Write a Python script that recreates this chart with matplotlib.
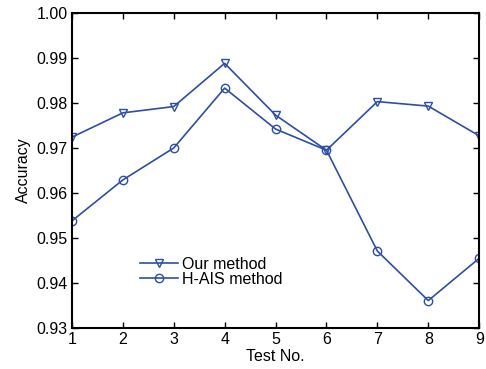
import numpy as np
import matplotlib.pyplot as plt

plt.rcParams['font.family'] = ['Liberation Sans', 'DejaVu Sans']

tests = [1, 2, 3, 4, 5, 6, 7, 8, 9]
our_method = [0.9724, 0.9778, 0.9792, 0.9888, 0.9773, 0.9695, 0.9803, 0.9793, 0.9727]
hais_method = [0.9538, 0.9629, 0.9700, 0.9833, 0.9742, 0.9695, 0.9471, 0.9361, 0.9455]
yticks = [0.93, 0.94, 0.95, 0.96, 0.97, 0.98, 0.99, 1.00]

blue = '#2c4fa3'
fs = 11.5

fig = plt.figure(figsize=(4.86, 3.69), dpi=100)
ax = fig.add_axes([0.148, 0.111, 0.838, 0.854])

ax.plot(tests, our_method, color=blue, lw=1.2, marker='v', ms=6,
        mfc='none', mec=blue, mew=1.0, label='Our method')
ax.plot(tests, hais_method, color=blue, lw=1.2, marker='o', ms=6,
        mfc='none', mec=blue, mew=1.0, label='H-AIS method')

ax.set_xlim(1, 9)
ax.set_ylim(0.93, 1.00)
ax.set_xticks(tests)
ax.set_yticks(yticks)
ax.set_yticklabels(['%.2f' % v for v in yticks])
ax.tick_params(direction='in', top=True, right=True, length=4, width=1,
               labelsize=fs, pad=3)
for s in ax.spines.values():
    s.set_linewidth(1.5)

ax.set_xlabel('Test No.', fontsize=fs, labelpad=1)
ax.set_ylabel('Accuracy', fontsize=fs, labelpad=4)

ax.legend(loc='center left', bbox_to_anchor=(0.167, 0.178), frameon=False,
          fontsize=fs, handlelength=2.4, handletextpad=0.26, labelspacing=0.0,
          borderpad=0, borderaxespad=0)

fig.savefig('out.png', dpi=100)
